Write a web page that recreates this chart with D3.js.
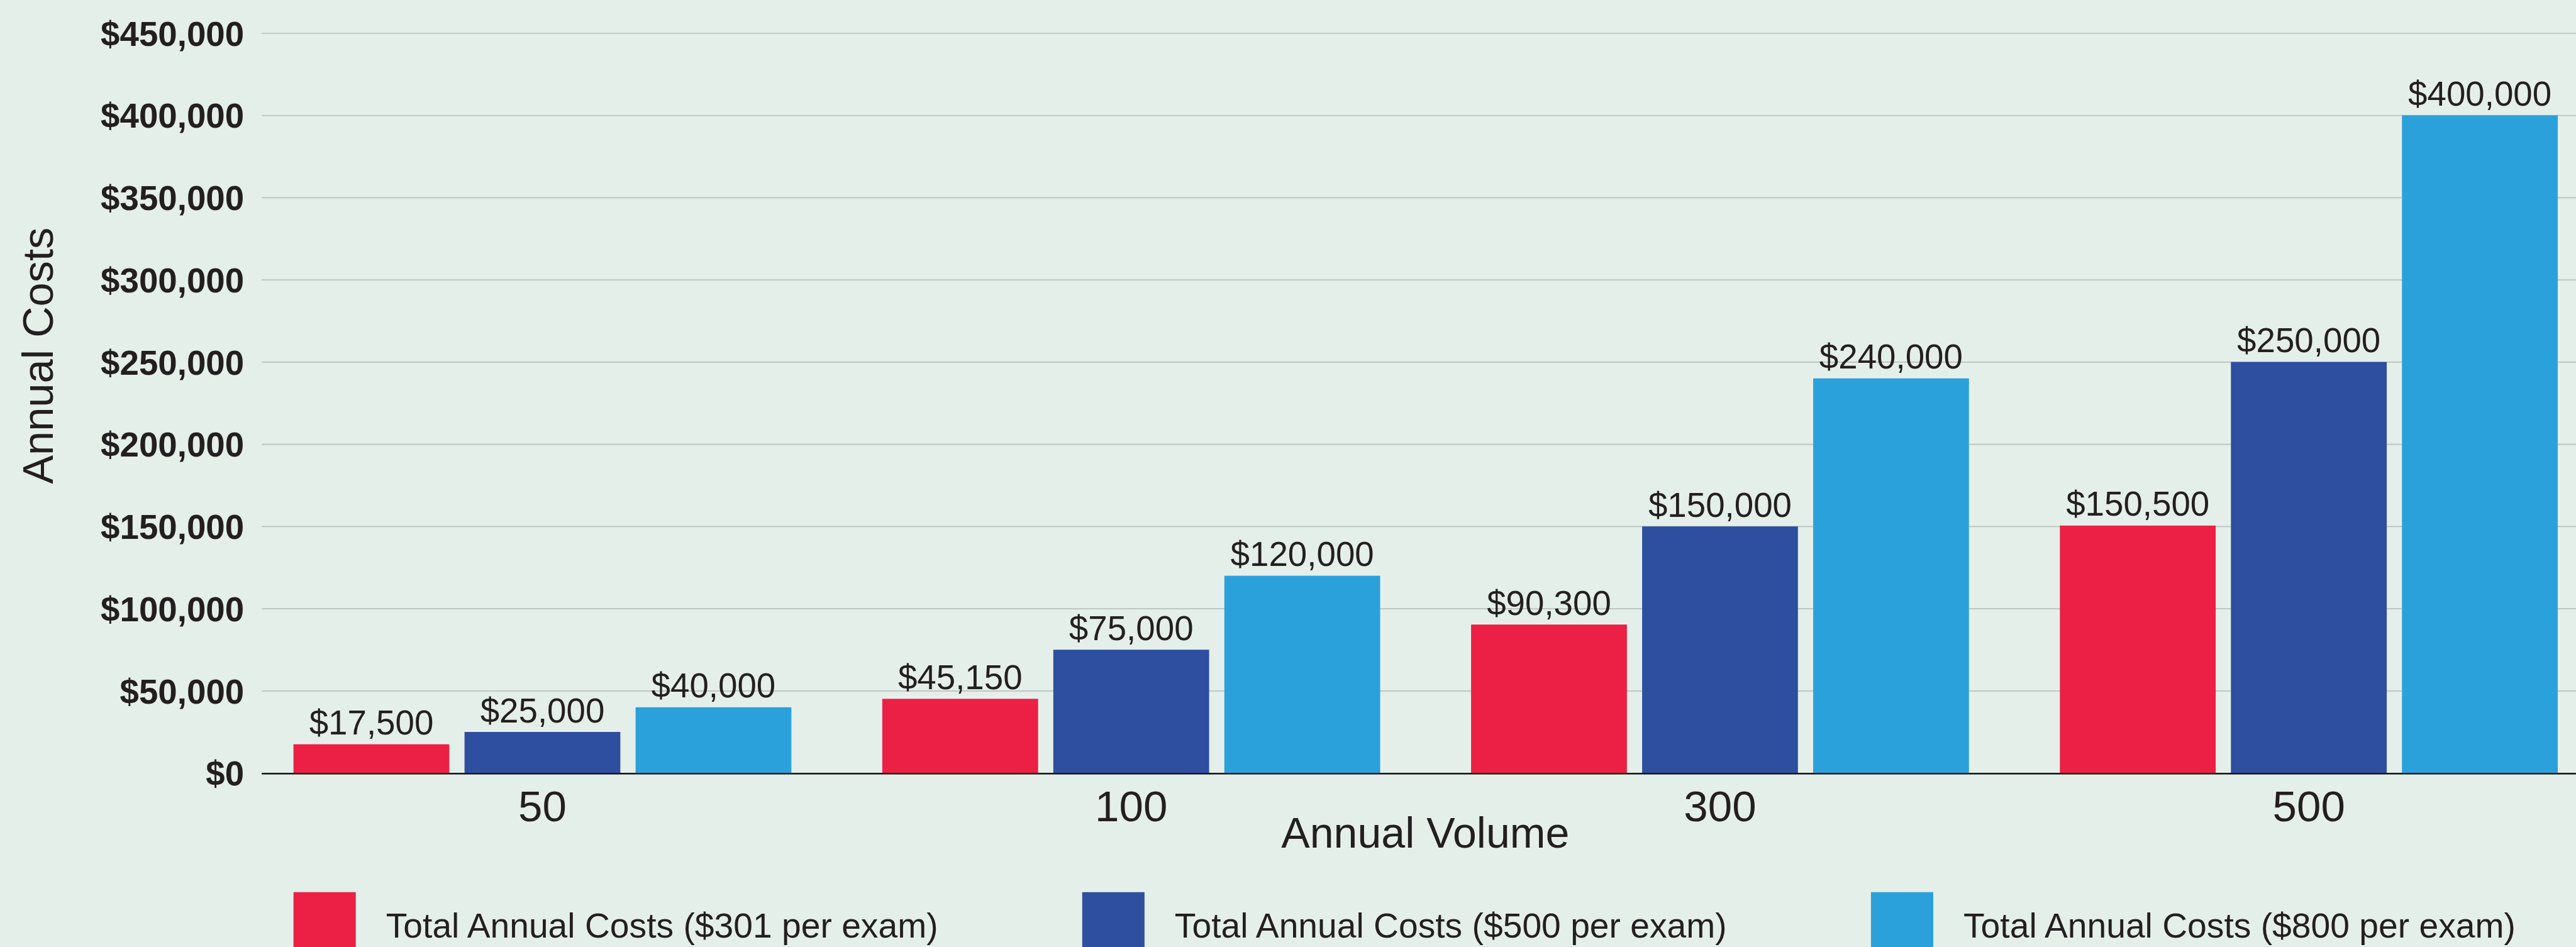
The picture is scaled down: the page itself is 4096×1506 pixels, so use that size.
<!DOCTYPE html>
<html>
<head>
<meta charset="utf-8">
<script src="https://cdn.jsdelivr.net/npm/d3@7"></script>
<style>
  html, body { margin: 0; padding: 0; background: #e5efea; }
  svg { display: block; }
  text { font-family: "Liberation Sans", Arial, Helvetica, sans-serif; fill: #231f20; }
</style>
</head>
<body>
<div id="chart"></div>
<script>
// data
const volumes = ["50", "100", "300", "500"];
const seriesNames = [
  "Total Annual Costs ($301 per exam)",
  "Total Annual Costs ($500 per exam)",
  "Total Annual Costs ($800 per exam)"
];
const cost301 = [17500, 45150, 90300, 150500];
const cost500 = [25000, 75000, 150000, 250000];
const cost800 = [40000, 120000, 240000, 400000];
const yTicks = [0, 50000, 100000, 150000, 200000, 250000, 300000, 350000, 400000, 450000];
const colors = ["#ec1f45", "#2e4f9f", "#2ba1dc"];

// drawn in the reference's own pixel units, viewBox scales it to the window
const W = 7936, H = 2918;
const plot = { left: 806, right: W, top: 102, bottom: 2382 };

const svg = d3.select("#chart").append("svg")
  .attr("width", 4096)
  .attr("height", 1506)
  .attr("viewBox", `0 0 ${W} ${H}`);

svg.append("rect")
  .attr("width", W)
  .attr("height", H)
  .attr("fill", "#e5efea");

const rows = volumes.map((v, i) => ({
  volume: v,
  values: [cost301[i], cost500[i], cost800[i]]
}));

const y = d3.scaleLinear()
  .domain([0, 450000])
  .range([plot.bottom, plot.top]);

const x0 = d3.scaleBand()
  .domain(volumes)
  .range([904, 7880])
  .paddingInner(0.1544)
  .paddingOuter(0);

const x1 = d3.scaleBand()
  .domain(d3.range(seriesNames.length))
  .range([0, x0.bandwidth()])
  .paddingInner(0.089)
  .paddingOuter(0);

const money = d3.format("$,");

// y axis with gridlines
const yAxis = svg.append("g")
  .attr("transform", `translate(${plot.left},0)`)
  .call(d3.axisLeft(y)
    .tickValues(yTicks)
    .tickFormat(money)
    .tickSizeInner(-(plot.right - plot.left))
    .tickSizeOuter(0)
    .tickPadding(54));

yAxis.select(".domain").remove();
yAxis.selectAll(".tick line")
  .attr("stroke", "#b9c1bd")
  .attr("stroke-width", 3);
yAxis.selectAll(".tick text")
  .attr("font-size", 106)
  .attr("font-weight", "bold")
  .attr("dy", "0.36em")
  .style("font-family", "'Liberation Sans', Arial, Helvetica, sans-serif")
  .attr("fill", "#231f20");

// bars
const groups = svg.append("g")
  .selectAll("g.group")
  .data(rows)
  .join("g")
  .attr("class", "group")
  .attr("transform", d => `translate(${x0(d.volume)},0)`);

groups.selectAll("rect")
  .data(d => d.values.map((v, i) => ({ i, v })))
  .join("rect")
  .attr("x", d => x1(d.i))
  .attr("y", d => y(d.v))
  .attr("width", x1.bandwidth())
  .attr("height", d => y(0) - y(d.v))
  .attr("fill", d => colors[d.i]);

groups.selectAll("text.value")
  .data(d => d.values.map((v, i) => ({ i, v })))
  .join("text")
  .attr("class", "value")
  .attr("x", d => x1(d.i) + x1.bandwidth() / 2)
  .attr("y", d => y(d.v) - 30)
  .attr("text-anchor", "middle")
  .attr("font-size", 106)
  .text(d => money(d.v));

// x axis labels
const xAxis = svg.append("g")
  .attr("transform", `translate(0,${plot.bottom})`)
  .call(d3.axisBottom(x0).tickSize(0).tickPadding(54));

xAxis.select(".domain").remove();
xAxis.selectAll(".tick text")
  .attr("font-size", 134)
  .style("font-family", "'Liberation Sans', Arial, Helvetica, sans-serif")
  .attr("fill", "#231f20");

// baseline
svg.append("line")
  .attr("x1", plot.left)
  .attr("x2", plot.right)
  .attr("y1", plot.bottom + 2)
  .attr("y2", plot.bottom + 2)
  .attr("stroke", "#000")
  .attr("stroke-width", 4);

// axis titles
svg.append("text")
  .attr("x", 4391)
  .attr("y", 2612)
  .attr("text-anchor", "middle")
  .attr("font-size", 132)
  .text("Annual Volume");

svg.append("text")
  .attr("transform", "translate(162,1096) rotate(-90)")
  .attr("text-anchor", "middle")
  .attr("font-size", 133)
  .text("Annual Costs");

// legend
const legend = svg.append("g")
  .selectAll("g")
  .data(seriesNames)
  .join("g")
  .attr("transform", (d, i) => `translate(${904 + i * 2430},2749)`);

legend.append("rect")
  .attr("width", 192)
  .attr("height", 192)
  .attr("fill", (d, i) => colors[i]);

legend.append("text")
  .attr("x", 285)
  .attr("y", 139)
  .attr("font-size", 107)
  .text(d => d);
</script>
</body>
</html>
